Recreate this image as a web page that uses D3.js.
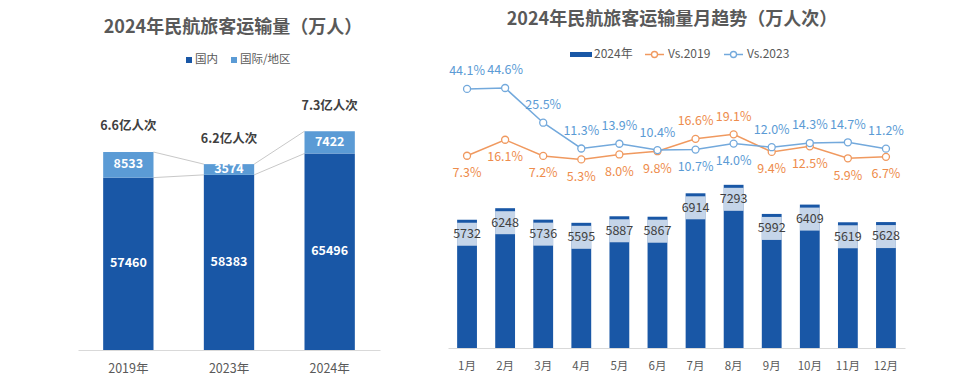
<!DOCTYPE html>
<html>
<head>
<meta charset="utf-8">
<script src="https://cdn.jsdelivr.net/npm/d3@7"></script>
<style>
  body { margin: 0; background: #fff; }
  text { font-family: "Noto Sans CJK SC", "Noto Sans", sans-serif; }
</style>
</head>
<body>
<div id="chart"></div>
<script>
// left chart data
const years = ['2019年', '2023年', '2024年']
const domestic = [57460, 58383, 65496]
const intl = [8533, 3574, 7422]
const totalLabels = ['6.6亿人次', '6.2亿人次', '7.3亿人次']

// right chart data
const months = ['1月', '2月', '3月', '4月', '5月', '6月', '7月', '8月', '9月', '10月', '11月', '12月']
const traffic2024 = [5732, 6248, 5736, 5595, 5887, 5867, 6914, 7293, 5992, 6409, 5619, 5628]
const vs2019 = [7.3, 16.1, 7.2, 5.3, 8.0, 9.8, 16.6, 19.1, 9.4, 12.5, 5.9, 6.7]
const vs2023 = [44.1, 44.6, 25.5, 11.3, 13.9, 10.4, 10.7, 14.0, 12.0, 14.3, 14.7, 11.2]

const darkBlue = '#1957a6'
const lightBlue = '#5b9bd5'
const orange = '#f0995f'
const lineBlue = '#73a9dc'

const svg = d3.select('#chart')
  .append('svg')
  .attr('width', 966)
  .attr('height', 389)

// ---------------- left chart ----------------
const left = svg.append('g')

left.append('text')
  .attr('x', 233).attr('y', 28)
  .attr('text-anchor', 'middle').attr('dominant-baseline', 'middle')
  .attr('font-size', 18).attr('font-weight', 'bold').attr('fill', '#595959')
  .text('2024年民航旅客运输量（万人）')

const legL = [{ name: '国内', color: darkBlue, x: 186 }, { name: '国际/地区', color: lightBlue, x: 231 }]
legL.forEach(d => {
  left.append('rect').attr('x', d.x).attr('y', 57).attr('width', 6).attr('height', 6).attr('fill', d.color)
  left.append('text').attr('x', d.x + 9).attr('y', 60)
    .attr('dominant-baseline', 'middle').attr('font-size', 11.5).attr('fill', '#595959')
    .text(d.name)
})

const xL = d3.scaleBand()
  .domain(years)
  .range([78, 380])
  .paddingInner(0.5)
  .paddingOuter(0.25)

const yL = d3.scaleLinear()
  .domain([0, 80000])
  .range([350, 110])

const bwL = xL.bandwidth()

// connector lines
for (let i = 0; i < years.length - 1; i++) {
  const x1 = xL(years[i]) + bwL
  const x2 = xL(years[i + 1])
  left.append('line')
    .attr('x1', x1).attr('x2', x2)
    .attr('y1', yL(domestic[i] + intl[i])).attr('y2', yL(domestic[i + 1] + intl[i + 1]))
    .attr('stroke', '#c8c8c8').attr('stroke-width', 1)
  left.append('line')
    .attr('x1', x1).attr('x2', x2)
    .attr('y1', yL(domestic[i])).attr('y2', yL(domestic[i + 1]))
    .attr('stroke', '#c8c8c8').attr('stroke-width', 1)
}

left.selectAll('.dom')
  .data(years)
  .enter()
  .append('rect')
  .attr('x', d => xL(d))
  .attr('y', (d, i) => yL(domestic[i]))
  .attr('width', bwL)
  .attr('height', (d, i) => yL(0) - yL(domestic[i]))
  .attr('fill', darkBlue)

left.selectAll('.intl')
  .data(years)
  .enter()
  .append('rect')
  .attr('x', d => xL(d))
  .attr('y', (d, i) => yL(domestic[i] + intl[i]))
  .attr('width', bwL)
  .attr('height', (d, i) => yL(domestic[i]) - yL(domestic[i] + intl[i]))
  .attr('fill', lightBlue)

years.forEach((d, i) => {
  const cx = xL(d) + bwL / 2
  left.append('text')
    .attr('x', cx).attr('y', (yL(0) + yL(domestic[i])) / 2)
    .attr('text-anchor', 'middle').attr('dominant-baseline', 'middle')
    .attr('font-size', 12.5).attr('font-weight', 'bold').attr('fill', '#fff')
    .text(domestic[i])
  left.append('text')
    .attr('x', cx).attr('y', (yL(domestic[i]) + yL(domestic[i] + intl[i])) / 2)
    .attr('text-anchor', 'middle').attr('dominant-baseline', 'middle')
    .attr('font-size', 12.5).attr('font-weight', 'bold').attr('fill', '#fff')
    .text(intl[i])
  left.append('text')
    .attr('x', cx).attr('y', yL(domestic[i] + intl[i]) - 25)
    .attr('text-anchor', 'middle').attr('dominant-baseline', 'middle')
    .attr('font-size', 12.5).attr('font-weight', 'bold').attr('fill', '#404040')
    .text(totalLabels[i])
})

const axL = left.append('g')
  .attr('transform', `translate(0,${yL(0)})`)
  .call(d3.axisBottom(xL).tickSize(0).tickPadding(14))
axL.select('.domain').attr('stroke', '#d9d9d9')
axL.selectAll('text')
  .attr('font-size', 12.5).attr('fill', '#595959')
  .style('font-family', '"Noto Sans CJK SC", sans-serif')

// ---------------- right chart ----------------
const right = svg.append('g')

right.append('text')
  .attr('x', 672).attr('y', 20)
  .attr('text-anchor', 'middle').attr('dominant-baseline', 'middle')
  .attr('font-size', 18).attr('font-weight', 'bold').attr('fill', '#595959')
  .text('2024年民航旅客运输量月趋势（万人次）')

// legend
right.append('rect').attr('x', 570).attr('y', 52).attr('width', 22).attr('height', 5).attr('fill', darkBlue)
right.append('text').attr('x', 594).attr('y', 54.5)
  .attr('dominant-baseline', 'middle').attr('font-size', 12).attr('fill', '#595959').text('2024年')
const legR = [{ name: 'Vs.2019', color: orange, x: 645 }, { name: 'Vs.2023', color: lineBlue, x: 724 }]
legR.forEach(d => {
  right.append('line').attr('x1', d.x).attr('x2', d.x + 19).attr('y1', 54.5).attr('y2', 54.5)
    .attr('stroke', d.color).attr('stroke-width', 1.5)
  right.append('circle').attr('cx', d.x + 9.5).attr('cy', 54.5).attr('r', 3)
    .attr('fill', '#fff').attr('stroke', d.color).attr('stroke-width', 1.3)
  right.append('text').attr('x', d.x + 23).attr('y', 54.5)
    .attr('dominant-baseline', 'middle').attr('font-size', 12).attr('fill', '#595959').text(d.name)
})

const xR = d3.scaleBand()
  .domain(months)
  .range([448, 905])
  .paddingInner(0.48)
  .paddingOuter(0.24)

const yR = d3.scaleLinear()
  .domain([0, 8000])
  .range([348, 169])

const yP = d3.scaleLinear()
  .domain([0, 50])
  .range([169, 78.2])

const bwR = xR.bandwidth()

right.selectAll('.bar')
  .data(months)
  .enter()
  .append('rect')
  .attr('x', d => xR(d))
  .attr('y', (d, i) => yR(traffic2024[i]))
  .attr('width', bwR)
  .attr('height', (d, i) => yR(0) - yR(traffic2024[i]))
  .attr('fill', darkBlue)

right.selectAll('.lblbox')
  .data(months)
  .enter()
  .append('rect')
  .attr('x', d => xR(d))
  .attr('y', (d, i) => yR(traffic2024[i]) + 3)
  .attr('width', bwR)
  .attr('height', 23)
  .attr('fill', '#fff')
  .attr('opacity', 0.75)

right.selectAll('.barlbl')
  .data(months)
  .enter()
  .append('text')
  .attr('x', d => xR(d) + bwR / 2)
  .attr('y', (d, i) => yR(traffic2024[i]) + 15)
  .attr('text-anchor', 'middle').attr('dominant-baseline', 'middle')
  .attr('font-size', 12.5).attr('fill', '#404040')
  .text((d, i) => traffic2024[i])

const axR = right.append('g')
  .attr('transform', `translate(0,${yR(0)})`)
  .call(d3.axisBottom(xR).tickSize(0).tickPadding(14))
axR.select('.domain').attr('stroke', '#d9d9d9')
axR.selectAll('text')
  .attr('font-size', 11.5).attr('fill', '#595959')
  .style('font-family', '"Noto Sans CJK SC", sans-serif')

const line = d3.line()
  .x((d, i) => xR(months[i]) + bwR / 2)
  .y(d => yP(d))

const series = [
  { values: vs2019, color: orange, other: vs2023 },
  { values: vs2023, color: lineBlue, other: vs2019 }
]

series.forEach(s => {
  right.append('path')
    .datum(s.values)
    .attr('d', line)
    .attr('fill', 'none')
    .attr('stroke', s.color)
    .attr('stroke-width', 1.5)

  right.selectAll(null)
    .data(s.values)
    .enter()
    .append('circle')
    .attr('cx', (d, i) => xR(months[i]) + bwR / 2)
    .attr('cy', d => yP(d))
    .attr('r', 3.5)
    .attr('fill', '#fff')
    .attr('stroke', s.color)
    .attr('stroke-width', 1.3)

  right.selectAll(null)
    .data(s.values)
    .enter()
    .append('text')
    .attr('x', (d, i) => xR(months[i]) + bwR / 2)
    .attr('y', (d, i) => yP(d) + (d > s.other[i] ? -17 : 18))
    .attr('text-anchor', 'middle').attr('dominant-baseline', 'middle')
    .attr('font-size', 12.5).attr('fill', s.color === orange ? '#ee8c4c' : '#5b9bd5')
    .text(d => d.toFixed(1) + '%')
})
</script>
</body>
</html>
